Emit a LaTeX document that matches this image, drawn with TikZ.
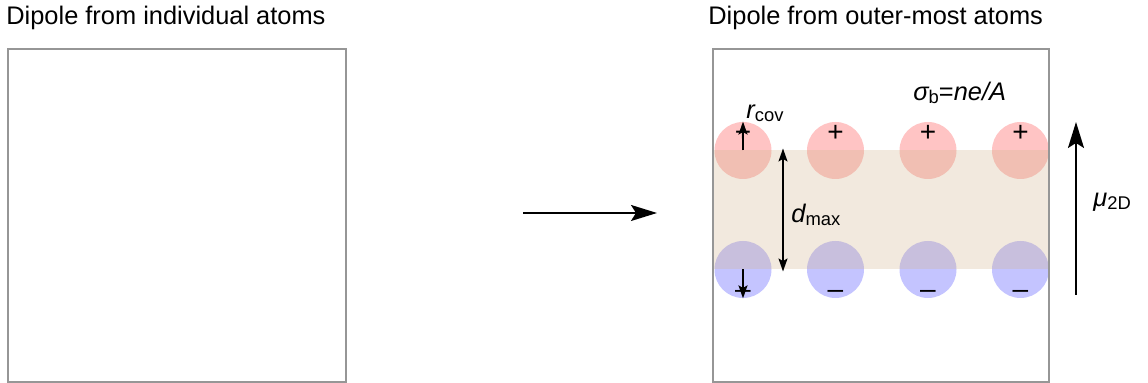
\documentclass[tikz,border=0pt]{standalone}
\usepackage{fontspec}
\setmainfont{Liberation Sans}
\usetikzlibrary{arrows.meta}
\definecolor{boxgray}{RGB}{150,150,150}
\definecolor{poscol}{RGB}{255,196,196}
\definecolor{negcol}{RGB}{196,196,255}
\definecolor{bandcol}{RGB}{210,180,140}
% italic symbol with an upright, slightly lowered subscript
\newcommand\symsub[2]{{\itshape #1}{\fontsize{9.2}{9.2}\selectfont\raisebox{-0.12em}{#2}}}
\begin{document}
\begin{tikzpicture}[x=0.5pt,y=-0.5pt,
  font=\fontsize{12.7}{14}\selectfont,
  frame/.style={draw=boxgray,line width=1pt},
  atom/.style={circle,minimum size=28.5pt,inner sep=0pt},
  posatom/.style={atom,fill=poscol},
  negatom/.style={atom,fill=negcol},
  charge/.style={inner sep=0pt,anchor=base,font=\fontsize{14}{14}\selectfont},
  lab/.style={inner sep=0pt,anchor=base west},
  bigarrow/.style={line width=0.9pt,-{Stealth[length=13pt,width=8pt,inset=2.5pt]}},
  smallarrow/.style={line width=0.8pt,-{Stealth[length=6.5pt,width=4.5pt,inset=1.3pt]}},
  twoarrow/.style={line width=0.8pt,{Stealth[length=6.5pt,width=4.5pt,inset=1.3pt]}-{Stealth[length=6.5pt,width=4.5pt,inset=1.3pt]}}]
\useasboundingbox (0,0) rectangle (1148,383);

% titles
\node[lab] (tleft) at (6,25) {Dipole from individual atoms};
\node[lab] (tright) at (708,25) {Dipole from outer-most atoms};

% atoms: positive top row, negative bottom row
\foreach \i/\x in {1/743,2/835.5,3/928,4/1020.5}{
  \node[posatom] (p\i) at (\x,150.5) {};
  \node[negatom] (m\i) at (\x,269.5) {};
}

% layer between the outer-most atoms
\fill[bandcol,opacity=0.29] (713,150.5) rectangle (1049,269.5);

% charge signs
\foreach \i/\x in {1/743,2/835.5,3/928,4/1020.5}{
  \node[charge] (pp\i) at (\x,141.4) {+};
  \node[charge] (mm\i) at (\x,298.4) {–};
}

% frames
\draw[frame] (8,49.5) rectangle (345.5,382);
\draw[frame] (713,49.5) rectangle (1049,382);

% covalent radius arrows
\draw[smallarrow] (p1.center) -- (p1.north);
\draw[smallarrow] (m1.center) -- (m1.south);

% layer thickness
\coordinate (dtop) at (783,148.5);
\coordinate (dbot) at (783,271.5);
\draw[twoarrow] (dtop) -- (dbot);

% transition arrow
\coordinate (a0) at (523,213);
\coordinate (a1) at (657,213);
\draw[bigarrow] (a0) -- (a1);

% dipole arrow
\coordinate (mu0) at (1076,295);
\coordinate (mu1) at (1076,122);
\draw[bigarrow] (mu0) -- (mu1);

% labels
\node[lab] (rc) at (746,119) {\symsub{r}{cov}};
\node[lab] (dm) at (791,223) {\symsub{d}{max}};
\node[lab] (sg) at (913,101) {\symsub{σ}{b}=\textit{ne/A}};
\node[lab] (mu) at (1093,207) {\symsub{μ}{2D}};
\end{tikzpicture}
\end{document}
